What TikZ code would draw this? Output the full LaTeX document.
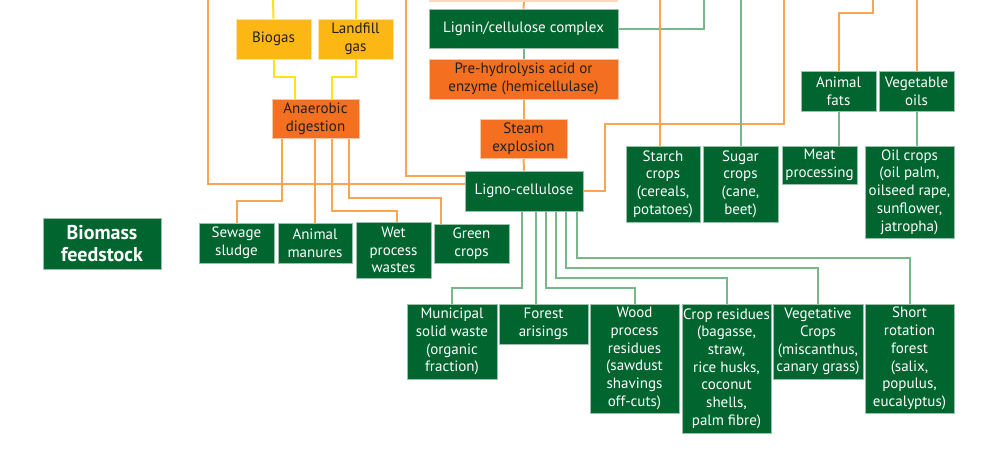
\documentclass[tikz,border=0pt]{standalone}
\usepackage{fontspec}
\setmainfont{PT Sans}
\usepackage{tikz}
\usetikzlibrary{positioning,calc,backgrounds}

\definecolor{boxgreen}{HTML}{00652E}
\definecolor{boxorange}{HTML}{F47020}
\definecolor{boxyellow}{HTML}{FDB714}
\definecolor{boxpeach}{HTML}{FCD9BC}
\definecolor{lineorange}{HTML}{FBA550}
\definecolor{linegreen}{HTML}{7AB68C}
\definecolor{lineyellow}{HTML}{FFE31A}
\definecolor{txtdark}{HTML}{231F20}

\begin{document}
\begin{tikzpicture}[x=1pt, y=-1pt, line join=miter,
  box/.style={rectangle, inner sep=0pt, align=center, line width=0.8pt,
    font=\fontsize{15}{17.7}\selectfont},
  gbox/.style={box, fill=boxgreen, draw=boxgreen!40!white, text=white},
  obox/.style={box, fill=boxorange, draw=boxorange!40!white, text=txtdark},
  ybox/.style={box, fill=boxyellow, draw=boxyellow!40!white, text=txtdark},
  oline/.style={draw=lineorange, line width=2pt},
  gline/.style={draw=linegreen, line width=2pt},
  yline/.style={draw=lineyellow, line width=2pt}]

\useasboundingbox (0,0) rectangle (989,451);

% --- box below the top edge (only its bottom border shows) ---
\fill[boxpeach] (429,0) rectangle (618,1.5);

% ------------------ gas / anaerobic branch ------------------
\node[ybox, minimum width=75, minimum height=40] (biogas)   at (273.5,39) {Biogas};
\node[ybox, minimum width=75, minimum height=40] (landfill) at (355.5,39) {Landfill\\gas};
\node[obox, minimum width=87, minimum height=39] (anaer)    at (315.5,118.5) {Anaerobic\\digestion};

\node[gbox, minimum width=118, minimum height=51,
      font=\fontsize{20}{21.5}\selectfont\bfseries] (biomass) at (102,243.5) {Biomass\\feedstock};

\node[gbox, minimum width=75, minimum height=40] (sewage)  at (236.5,243) {Sewage\\sludge};
\node[gbox, minimum width=74, minimum height=40] (manures) at (315,243)   {Animal\\manures};
\node[gbox, minimum width=75, minimum height=56] (wet)     at (393.5,250) {Wet\\process\\wastes};
\node[gbox, minimum width=75, minimum height=39] (green)   at (471.5,243.5) {Green\\crops};

% ------------------ ligno-cellulose branch ------------------
\node[gbox, minimum width=189, minimum height=39] (lignin) at (523.5,28.5) {Lignin/cellulose complex};
\node[obox, minimum width=189, minimum height=40] (prehyd) at (523.5,79) {Pre-hydrolysis acid or\\enzyme (hemicellulase)};
\node[obox, minimum width=87, minimum height=39]  (steam)  at (523.5,138.5) {Steam\\explosion};
\node[gbox, minimum width=118, minimum height=40] (ligno)  at (524,191) {Ligno-cellulose};

\node[gbox, minimum width=90, minimum height=75]  (municipal) at (452,341.5)   {Municipal\\solid waste\\(organic\\fraction)};
\node[gbox, minimum width=89, minimum height=40]  (forest)    at (543.5,324)   {Forest\\arisings};
\node[gbox, minimum width=89, minimum height=109] (wood)      at (634.5,358.5) {Wood\\process\\residues\\(sawdust\\shavings\\off-cuts)};
\node[gbox, minimum width=89, minimum height=129] (cropres)   at (726.5,368.5) {Crop residues\\(bagasse,\\straw,\\rice husks,\\coconut\\shells,\\palm fibre)};
\node[gbox, minimum width=90, minimum height=75]  (veget)     at (818,341.5)   {Vegetative\\Crops\\(miscanthus,\\canary grass)};
\node[gbox, minimum width=89, minimum height=109] (shortrot)  at (909.5,358.5) {Short\\rotation\\forest\\(salix,\\populus,\\eucalyptus)};

% ------------------ crops, fats and oils ------------------
\node[gbox, minimum width=74, minimum height=76] (starch)   at (663,184)   {Starch\\crops\\(cereals,\\potatoes)};
\node[gbox, minimum width=75, minimum height=76] (sugar)    at (740.5,184) {Sugar\\crops\\(cane,\\beet)};
\node[gbox, minimum width=75, minimum height=40] (afats)    at (838.5,91)  {Animal\\fats};
\node[gbox, minimum width=75, minimum height=40] (vegoils)  at (916.5,91)  {Vegetable\\oils};
\node[gbox, minimum width=75, minimum height=38] (meat)     at (819.5,165) {Meat\\processing};
\node[gbox, minimum width=89, minimum height=92] (oilcrops) at (909.5,192) {Oil crops\\(oil palm,\\oilseed rape,\\sunflower,\\jatropha)};

% loose ends at the top edge
\coordinate (topA) at (208,0);
\coordinate (topB) at (406,0);
\coordinate (topC) at (784,0);
\coordinate (topD) at (660,0);
\coordinate (topE) at (741,0);
\coordinate (topF) at (704,0);
\coordinate (topG) at (524,0);
\coordinate (topH) at (873,0);
\coordinate (topI) at (917,0);
\coordinate (topJ) at (273,0);
\coordinate (topK) at (356,0);

% ------------------ connectors ------------------
\begin{scope}[on background layer]
  % gas boxes
  \draw[yline] (topJ) -- (biogas.north);
  \draw[yline] (topK) -- (topK |- landfill.north);
  \draw[yline] (biogas.south) -- ++(0,18) -| ([xshift=-20.5]anaer.north);
  \draw[yline] (landfill.south) -- ++(0,18) -| ([xshift=16.5]anaer.north);

  % anaerobic digestion feedstocks
  \draw[oline] ([xshift=-33.5]anaer.south) -- ++(0,63) -| (sewage.north);
  \draw[oline] (manures.north |- anaer.south) -- (manures.north);
  \draw[oline] ([xshift=16.5]anaer.south) -- ++(0,73) -| ([xshift=3.5]wet.north);
  \draw[oline] ([xshift=33.5]anaer.south) -- ++(0,60) -| ([xshift=-30.5]green.north);

  % into ligno-cellulose from the left
  \draw[oline] (topA) |- ([yshift=7]ligno.west);
  \draw[oline] (topB) |- ([yshift=15]ligno.west);

  % ligno-cellulose chain
  \draw[oline] (topG) -- (lignin.north);
  \draw[gline] (lignin.south) -- (prehyd.north);
  \draw[oline] (prehyd.south) -- (steam.north);
  \draw[oline] (steam.south) -- (ligno.north);
  \draw[gline] (lignin.east) -| (topF);
  \draw[oline] (ligno.east) -- ++(22,0) -- ++(0,-67) -| (topC);

  % ligno-cellulose feedstocks
  \draw[gline] ([xshift=-2]ligno.south) -- ++(0,77) -| (municipal.north);
  \draw[gline] ([xshift=12]ligno.south) -- ([xshift=-7.5]forest.north);
  \draw[gline] ([xshift=22]ligno.south) -- ++(0,77) -| (wood.north);
  \draw[gline] ([xshift=32]ligno.south) -- ++(0,67) -| (cropres.north);
  \draw[gline] ([xshift=42]ligno.south) -- ++(0,57) -| (veget.north);
  \draw[gline] ([xshift=53]ligno.south) -- ++(0,47) -| (shortrot.north);

  % starch, sugar, fats and oils
  \draw[oline] (topD) -- (topD |- starch.north);
  \draw[gline] (topE) -- (topE |- sugar.north);
  \draw[oline] (afats.north) -- ++(0,-58) -| (topH);
  \draw[oline] (topI) -- (topI |- vegoils.north);
  \draw[gline] (afats.south) -- (afats.south |- meat.north);
  \draw[gline] (topI |- vegoils.south) -- (topI |- oilcrops.north);
\end{scope}

\end{tikzpicture}
\end{document}
